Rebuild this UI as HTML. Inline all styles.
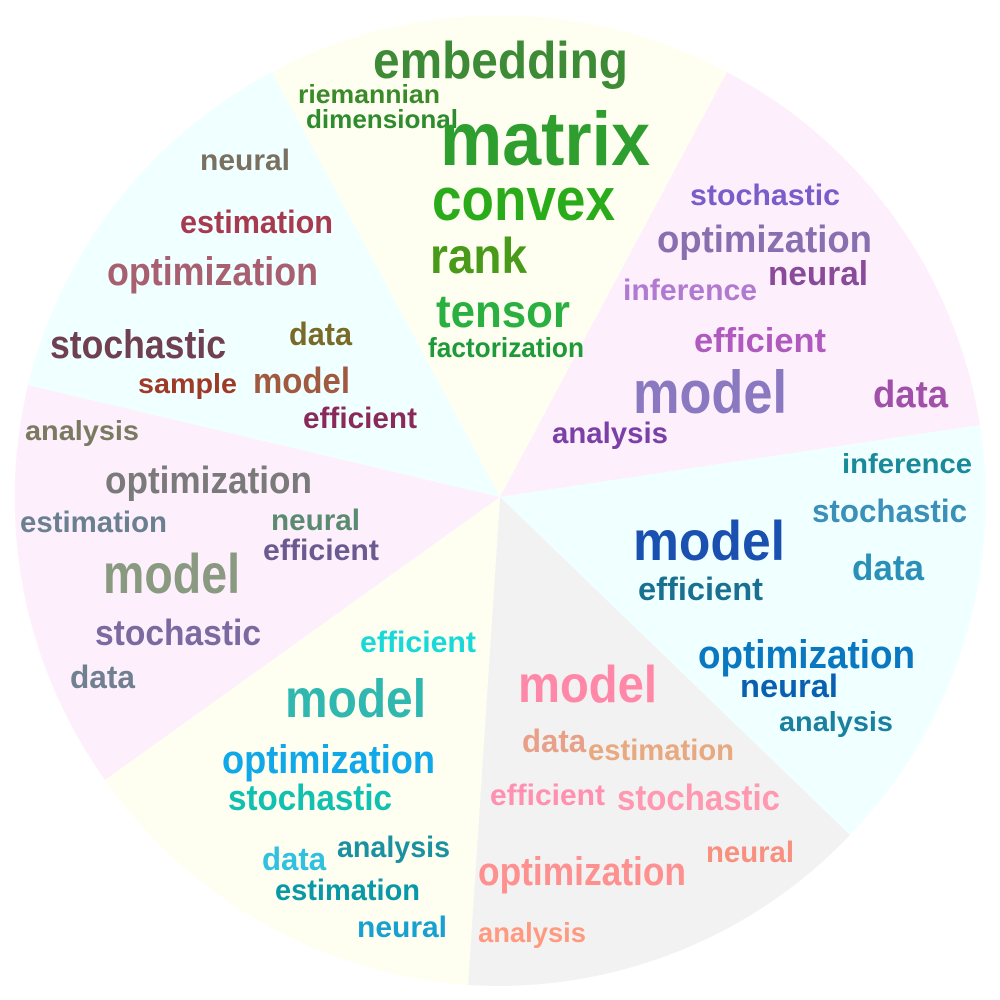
<!DOCTYPE html>
<html><head><meta charset="utf-8"><style>
html,body{margin:0;padding:0;background:#fff;width:1000px;height:1000px;overflow:hidden}
text{font-family:"Liberation Sans Narrow","Liberation Sans",sans-serif;font-weight:bold}
</style></head><body>
<svg width="1000" height="1000" viewBox="0 0 1000 1000" xmlns="http://www.w3.org/2000/svg">
<g stroke="none">
<path d="M500,497 L272,72 A485,485 0 0 1 727,72 Z" fill="#fefff0"/>
<path d="M500,497 L727,72 A485,485 0 0 1 980,425 Z" fill="#fdf0fc"/>
<path d="M500,497 L980,425 A485,485 0 0 1 850,835 Z" fill="#f0ffff"/>
<path d="M500,497 L850,835 A485,485 0 0 1 468,985 Z" fill="#f2f2f2"/>
<path d="M500,497 L468,985 A485,485 0 0 1 105,780 Z" fill="#fefff0"/>
<path d="M500,497 L105,780 A485,485 0 0 1 28,385 Z" fill="#fdf0fc"/>
<path d="M500,497 L28,385 A485,485 0 0 1 272,72 Z" fill="#f0ffff"/>
</g>
<g lengthAdjust="spacingAndGlyphs">
<!-- top yellow -->
<text x="373" y="78" font-size="52" fill="#3d8b37" textLength="255" lengthAdjust="spacingAndGlyphs">embedding</text>
<text x="298" y="103" font-size="26" fill="#3a8a2a" textLength="142" lengthAdjust="spacingAndGlyphs">riemannian</text>
<text x="306" y="128" font-size="26" fill="#2e8b2e" textLength="152" lengthAdjust="spacingAndGlyphs">dimensional</text>
<text x="440" y="165" font-size="76" fill="#2e9e2e" textLength="210" lengthAdjust="spacingAndGlyphs">matrix</text>
<text x="432" y="220" font-size="60" fill="#2aab1a" textLength="183" lengthAdjust="spacingAndGlyphs">convex</text>
<text x="430" y="273" font-size="50" fill="#4a9a1a" textLength="97" lengthAdjust="spacingAndGlyphs">rank</text>
<text x="436" y="327" font-size="46" fill="#2ab040" textLength="134" lengthAdjust="spacingAndGlyphs">tensor</text>
<text x="428" y="357" font-size="28" fill="#1e9a3a" textLength="156" lengthAdjust="spacingAndGlyphs">factorization</text>
<!-- pink top right -->
<text x="690" y="205" font-size="30" fill="#7b5cc8" textLength="150" lengthAdjust="spacingAndGlyphs">stochastic</text>
<text x="657" y="252" font-size="38" fill="#8a6fb0" textLength="215" lengthAdjust="spacingAndGlyphs">optimization</text>
<text x="768" y="285" font-size="34" fill="#8a4a9a" textLength="100" lengthAdjust="spacingAndGlyphs">neural</text>
<text x="623" y="300" font-size="30" fill="#b07ad0" textLength="134" lengthAdjust="spacingAndGlyphs">inference</text>
<text x="694" y="352" font-size="34" fill="#b05ac0" textLength="132" lengthAdjust="spacingAndGlyphs">efficient</text>
<text x="633" y="413" font-size="60" fill="#8a78c0" textLength="154" lengthAdjust="spacingAndGlyphs">model</text>
<text x="873" y="407" font-size="38" fill="#a050a8" textLength="75" lengthAdjust="spacingAndGlyphs">data</text>
<text x="552" y="443" font-size="30" fill="#7a40a8" textLength="116" lengthAdjust="spacingAndGlyphs">analysis</text>
<!-- cyan right -->
<text x="842" y="473" font-size="28" fill="#1a8a9a" textLength="130" lengthAdjust="spacingAndGlyphs">inference</text>
<text x="812" y="522" font-size="32" fill="#3a90b8" textLength="155" lengthAdjust="spacingAndGlyphs">stochastic</text>
<text x="633" y="560" font-size="56" fill="#1a50b0" textLength="152" lengthAdjust="spacingAndGlyphs">model</text>
<text x="852" y="580" font-size="36" fill="#2a90b8" textLength="72" lengthAdjust="spacingAndGlyphs">data</text>
<text x="638" y="600" font-size="32" fill="#1a7090" textLength="125" lengthAdjust="spacingAndGlyphs">efficient</text>
<text x="698" y="668" font-size="40" fill="#0a78c0" textLength="217" lengthAdjust="spacingAndGlyphs">optimization</text>
<text x="740" y="697" font-size="32" fill="#0a60b0" textLength="98" lengthAdjust="spacingAndGlyphs">neural</text>
<text x="779" y="731" font-size="28" fill="#1a80a0" textLength="114" lengthAdjust="spacingAndGlyphs">analysis</text>
<!-- gray bottom -->
<text x="518" y="702" font-size="52" fill="#ff88a8" textLength="139" lengthAdjust="spacingAndGlyphs">model</text>
<text x="522" y="752" font-size="32" fill="#e8a088" textLength="64" lengthAdjust="spacingAndGlyphs">data</text>
<text x="588" y="760" font-size="30" fill="#e8a880" textLength="146" lengthAdjust="spacingAndGlyphs">estimation</text>
<text x="490" y="805" font-size="30" fill="#ff90b0" textLength="115" lengthAdjust="spacingAndGlyphs">efficient</text>
<text x="617" y="810" font-size="36" fill="#ff98b0" textLength="163" lengthAdjust="spacingAndGlyphs">stochastic</text>
<text x="706" y="862" font-size="30" fill="#f89080" textLength="88" lengthAdjust="spacingAndGlyphs">neural</text>
<text x="478" y="885" font-size="40" fill="#ff9090" textLength="208" lengthAdjust="spacingAndGlyphs">optimization</text>
<text x="478" y="942" font-size="28" fill="#ff9a80" textLength="108" lengthAdjust="spacingAndGlyphs">analysis</text>
<!-- yellow bottom left -->
<text x="360" y="652" font-size="30" fill="#18d8d8" textLength="116" lengthAdjust="spacingAndGlyphs">efficient</text>
<text x="285" y="717" font-size="54" fill="#30b8b0" textLength="141" lengthAdjust="spacingAndGlyphs">model</text>
<text x="222" y="773" font-size="40" fill="#10a8e8" textLength="213" lengthAdjust="spacingAndGlyphs">optimization</text>
<text x="228" y="810" font-size="36" fill="#10c0b0" textLength="164" lengthAdjust="spacingAndGlyphs">stochastic</text>
<text x="337" y="857" font-size="30" fill="#1a90a0" textLength="113" lengthAdjust="spacingAndGlyphs">analysis</text>
<text x="262" y="870" font-size="32" fill="#30c0e0" textLength="64" lengthAdjust="spacingAndGlyphs">data</text>
<text x="275" y="900" font-size="30" fill="#0898a8" textLength="145" lengthAdjust="spacingAndGlyphs">estimation</text>
<text x="357" y="937" font-size="30" fill="#18a0d0" textLength="90" lengthAdjust="spacingAndGlyphs">neural</text>
<!-- pink left -->
<text x="25" y="440" font-size="28" fill="#7a7a60" textLength="114" lengthAdjust="spacingAndGlyphs">analysis</text>
<text x="105" y="493" font-size="38" fill="#7a7a7a" textLength="207" lengthAdjust="spacingAndGlyphs">optimization</text>
<text x="20" y="532" font-size="30" fill="#6a8090" textLength="147" lengthAdjust="spacingAndGlyphs">estimation</text>
<text x="271" y="530" font-size="30" fill="#5a8a70" textLength="89" lengthAdjust="spacingAndGlyphs">neural</text>
<text x="263" y="560" font-size="30" fill="#6a5a90" textLength="116" lengthAdjust="spacingAndGlyphs">efficient</text>
<text x="103" y="593" font-size="56" fill="#8a9a80" textLength="137" lengthAdjust="spacingAndGlyphs">model</text>
<text x="95" y="645" font-size="36" fill="#7a6aa0" textLength="166" lengthAdjust="spacingAndGlyphs">stochastic</text>
<text x="70" y="688" font-size="32" fill="#708090" textLength="65" lengthAdjust="spacingAndGlyphs">data</text>
<!-- cyan top left -->
<text x="200" y="170" font-size="30" fill="#7a7060" textLength="90" lengthAdjust="spacingAndGlyphs">neural</text>
<text x="180" y="233" font-size="32" fill="#a83a50" textLength="153" lengthAdjust="spacingAndGlyphs">estimation</text>
<text x="107" y="285" font-size="40" fill="#a86070" textLength="211" lengthAdjust="spacingAndGlyphs">optimization</text>
<text x="289" y="345" font-size="32" fill="#7a6a28" textLength="63" lengthAdjust="spacingAndGlyphs">data</text>
<text x="50" y="358" font-size="40" fill="#704050" textLength="176" lengthAdjust="spacingAndGlyphs">stochastic</text>
<text x="138" y="393" font-size="28" fill="#a03a28" textLength="99" lengthAdjust="spacingAndGlyphs">sample</text>
<text x="253" y="393" font-size="36" fill="#a05a40" textLength="97" lengthAdjust="spacingAndGlyphs">model</text>
<text x="303" y="428" font-size="30" fill="#8a2a5a" textLength="114" lengthAdjust="spacingAndGlyphs">efficient</text>
</g>
</svg>
</body></html>
